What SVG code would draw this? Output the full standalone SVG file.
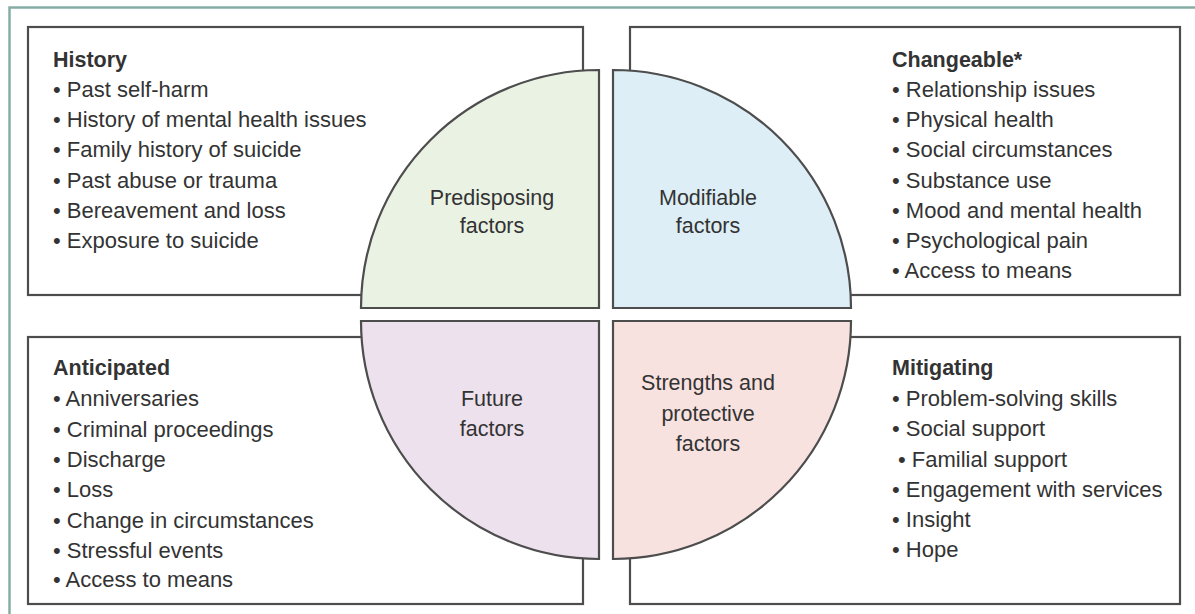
<svg xmlns="http://www.w3.org/2000/svg" width="1195" height="614" viewBox="0 0 1195 614">
<style>
.frame{fill:none;stroke:#86ada5;stroke-width:2.5}
.box{fill:#ffffff;stroke:#4d4d4d;stroke-width:2.2}
.q{stroke:#4d4d4d;stroke-width:2.2}
text{font-family:"Liberation Sans",Arial,sans-serif;font-size:22px;fill:#333333}
.h{font-weight:bold;font-size:21.5px}
.c{text-anchor:middle;font-size:21.5px}
</style>
<rect width="1195" height="614" fill="#ffffff"/>
<rect class="frame" x="9.5" y="7.5" width="1200" height="620"/>
<g id="box-history">
<rect class="box" x="28" y="27" width="555" height="268"/>
<text class="h" x="53" y="67">History</text>
<text x="53" y="97">• Past self-harm</text>
<text x="53" y="127">• History of mental health issues</text>
<text x="53" y="157">• Family history of suicide</text>
<text x="53" y="188">• Past abuse or trauma</text>
<text x="53" y="218">• Bereavement and loss</text>
<text x="53" y="248">• Exposure to suicide</text>
</g>
<g id="box-changeable">
<rect class="box" x="630" y="27" width="550" height="268"/>
<text class="h" x="892" y="67">Changeable*</text>
<text x="892" y="97">• Relationship issues</text>
<text x="892" y="127">• Physical health</text>
<text x="892" y="157">• Social circumstances</text>
<text x="892" y="188">• Substance use</text>
<text x="892" y="218">• Mood and mental health</text>
<text x="892" y="248">• Psychological pain</text>
<text x="892" y="278">• Access to means</text>
</g>
<g id="box-anticipated">
<rect class="box" x="28" y="337" width="555" height="267"/>
<text class="h" x="53" y="375">Anticipated</text>
<text x="53" y="406">• Anniversaries</text>
<text x="53" y="437">• Criminal proceedings</text>
<text x="53" y="467">• Discharge</text>
<text x="53" y="497">• Loss</text>
<text x="53" y="528">• Change in circumstances</text>
<text x="53" y="558">• Stressful events</text>
<text x="53" y="587">• Access to means</text>
</g>
<g id="box-mitigating">
<rect class="box" x="630" y="337" width="550" height="267"/>
<text class="h" x="892" y="375">Mitigating</text>
<text x="892" y="406">• Problem-solving skills</text>
<text x="892" y="436">• Social support</text>
<text x="898" y="467">• Familial support</text>
<text x="892" y="497">• Engagement with services</text>
<text x="892" y="527">• Insight</text>
<text x="892" y="557">• Hope</text>
</g>
<g id="q-predisposing">
<path class="q" fill="#eaf2e4" d="M599 308 L361 308 A238 238 0 0 1 599 70 Z"/>
<text class="c" x="492" y="205">Predisposing</text>
<text class="c" x="492" y="233">factors</text>
</g>
<g id="q-modifiable">
<path class="q" fill="#ddeef6" d="M613 308 L613 70 A238 238 0 0 1 851 308 Z"/>
<text class="c" x="708" y="205">Modifiable</text>
<text class="c" x="708" y="233">factors</text>
</g>
<g id="q-future">
<path class="q" fill="#ede1ed" d="M599 321 L599 559 A238 238 0 0 1 361 321 Z"/>
<text class="c" x="492" y="406">Future</text>
<text class="c" x="492" y="436">factors</text>
</g>
<g id="q-strengths">
<path class="q" fill="#f7e2e0" d="M613 321 L851 321 A238 238 0 0 1 613 559 Z"/>
<text class="c" x="708" y="390">Strengths and</text>
<text class="c" x="708" y="421">protective</text>
<text class="c" x="708" y="451">factors</text>
</g>
<g id="connectors"></g>
</svg>
